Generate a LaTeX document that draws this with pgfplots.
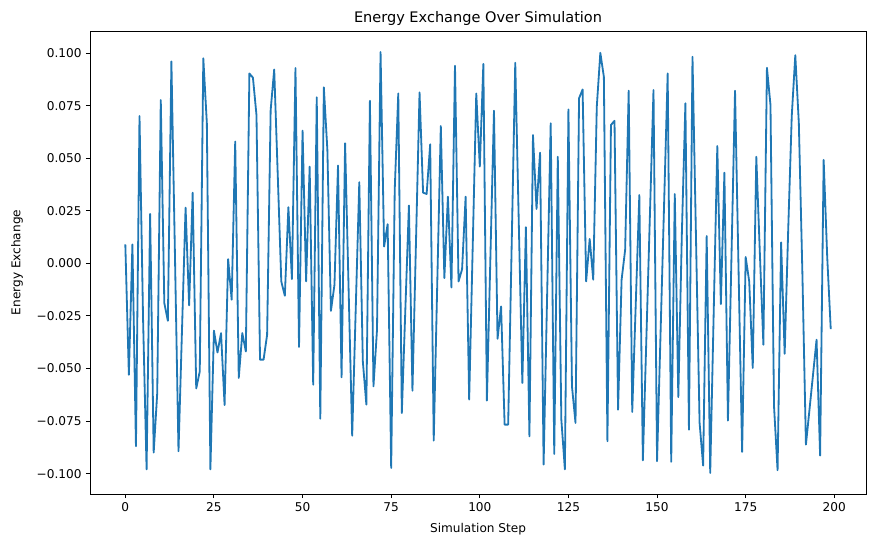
\documentclass[border=0pt]{standalone}
\usepackage{fontspec}
\setmainfont{DejaVu Sans}
\usepackage{pgfplots}
\pgfplotsset{compat=1.18}
\definecolor{tabblue}{HTML}{1F77B4}
\begin{document}
\begin{tikzpicture}
\path[use as bounding box] (0,0) rectangle (720bp,450bp);
\begin{axis}[
  at={(74.1bp,43.5bp)}, anchor=south west,
  scale only axis, width=638.5bp, height=381bp,
  xmin=-9.95, xmax=208.95, ymin=-0.1097, ymax=0.1105,
  axis line style={line width=0.8pt},
  tick style={line width=0.8pt, black},
  major tick length=3.5pt,
  tick align=outside, xtick pos=bottom, ytick pos=left,
  xtick={0,25,50,75,100,125,150,175,200},
  xticklabels={0,25,50,75,100,125,150,175,200},
  ytick={-0.1,-0.075,-0.05,-0.025,0,0.025,0.05,0.075,0.1},
  yticklabels={−0.100,−0.075,−0.050,−0.025,0.000,0.025,0.050,0.075,0.100},
  tick label style={font=\fontsize{10}{12}\selectfont},
  xlabel={Simulation Step}, ylabel={Energy Exchange},
  label style={font=\fontsize{10}{12}\selectfont},
  xlabel style={yshift=-2.5pt},
  ylabel style={yshift=4.5pt},
  title={Energy Exchange Over Simulation},
  title style={font=\fontsize{12}{14}\selectfont, yshift=-5pt},
]
\addplot[tabblue, line width=1.5pt, line join=round] coordinates {
(0,0.009)(1,-0.053)(2,0.009)(3,-0.087)(4,0.070)(5,-0.026)(6,-0.098)(7,0.0235)(8,-0.090)(9,-0.0617)
(10,0.0777)(11,-0.0189)(12,-0.0273)(13,0.096)(14,0.004)(15,-0.0894)(16,-0.031)(17,0.0265)(18,-0.020)(19,0.0336)
(20,-0.0595)(21,-0.0514)(22,0.0975)(23,0.0666)(24,-0.098)(25,-0.032)(26,-0.0424)(27,-0.0332)(28,-0.0674)(29,0.002)
(30,-0.0173)(31,0.0579)(32,-0.0545)(33,-0.0332)(34,-0.0419)(35,0.0903)(36,0.0883)(37,0.0705)(38,-0.0458)(39,-0.0458)
(40,-0.034)(41,0.0729)(42,0.0922)(43,0.042)(44,-0.0086)(45,-0.0154)(46,0.0267)(47,-0.0075)(48,0.0929)(49,-0.0398)
(50,0.0631)(51,-0.0086)(52,0.046)(53,-0.0577)(54,0.079)(55,-0.0739)(56,0.0837)(57,0.0539)(58,-0.0226)(59,-0.0102)
(60,0.0465)(61,-0.0542)(62,0.0571)(63,-0.013)(64,-0.082)(65,-0.0216)(66,0.0386)(67,-0.0466)(68,-0.0672)(69,0.0773)
(70,-0.0585)(71,-0.0316)(72,0.1005)(73,0.008)(74,0.0186)(75,-0.0973)(76,0.035)(77,0.0808)(78,-0.0712)(79,-0.0217)
(80,0.0275)(81,-0.0606)(82,0.0104)(83,0.0813)(84,0.0336)(85,0.033)(86,0.0566)(87,-0.0843)(88,-0.0094)(89,0.0653)
(90,-0.007)(91,0.0317)(92,-0.0115)(93,0.094)(94,-0.0086)(95,-0.0028)(96,0.0317)(97,-0.0648)(98,0.008)(99,0.0808)
(100,0.046)(101,0.0948)(102,-0.0653)(103,0.0037)(104,0.0726)(105,-0.0359)(106,-0.0205)(107,-0.0767)(108,-0.0767)(109,0.0094)
(110,0.0954)(111,0.019)(112,-0.0569)(113,0.0172)(114,-0.0823)(115,0.061)(116,0.0259)(117,0.0526)(118,-0.0957)(119,-0.0145)
(120,0.0666)(121,-0.0906)(122,0.0507)(123,-0.0743)(124,-0.098)(125,0.0732)(126,-0.0585)(127,-0.0759)(128,0.0785)(129,0.0827)
(130,-0.0086)(131,0.0116)(132,-0.0078)(133,0.0745)(134,0.1001)(135,0.0887)(136,-0.0846)(137,0.0658)(138,0.0678)(139,-0.0696)
(140,-0.0078)(141,0.0064)(142,0.0821)(143,-0.0707)(144,-0.019)(145,0.0325)(146,-0.0937)(147,-0.035)(148,0.0237)(149,0.0824)
(150,-0.0941)(151,-0.0327)(152,0.0289)(153,0.0903)(154,-0.0944)(155,0.033)(156,-0.0636)(157,0.0142)(158,0.0761)(159,-0.0791)
(160,0.0982)(161,0.011)(162,-0.0758)(163,-0.0962)(164,0.013)(165,-0.0997)(166,-0.022)(167,0.0558)(168,-0.0194)(169,0.0431)
(170,-0.0748)(171,0.0036)(172,0.0821)(173,-0.0037)(174,-0.0897)(175,0.003)(176,-0.0086)(177,-0.0498)(178,0.0507)(179,0.005)
(180,-0.0387)(181,0.093)(182,0.0753)(183,-0.068)(184,-0.0984)(185,0.010)(186,-0.043)(187,0.016)(188,0.070)(189,0.099)
(190,0.0666)(191,-0.0046)(192,-0.0862)(193,-0.0696)(194,-0.053)(195,-0.0363)(196,-0.0914)(197,0.0492)(198,0.0032)(199,-0.0313)
};
\end{axis}
\end{tikzpicture}
\end{document}
